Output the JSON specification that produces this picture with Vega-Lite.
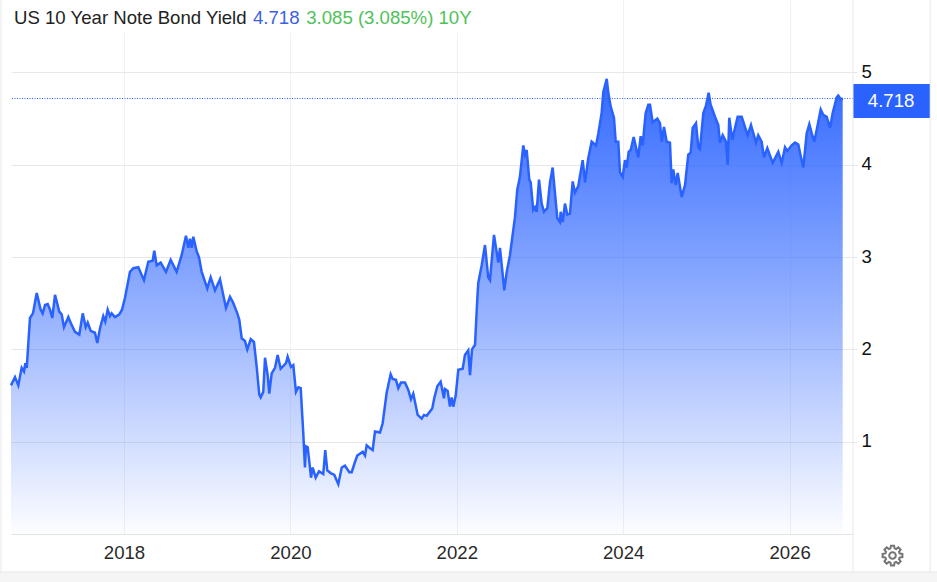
{
  "$schema": "https://vega.github.io/schema/vega-lite/v6.json",
  "autosize": "none",
  "width": 842,
  "height": 534,
  "padding": {"left": 11, "right": 84, "top": 0, "bottom": 48},
  "background": "#ffffff",
  "view": {"stroke": null},
  "config": {"font": "Liberation Sans"},
  "datasets": {
    "note": [{}],
    "yields": [
      {"year":2016.642,"yield":1.61},{"year":2016.690,"yield":1.70},{"year":2016.730,"yield":1.61},{"year":2016.770,"yield":1.80},{"year":2016.798,"yield":1.76},{"year":2016.814,"yield":1.85},{"year":2016.831,"yield":1.80},{"year":2016.870,"yield":2.34},{"year":2016.906,"yield":2.39},{"year":2016.951,"yield":2.61},{"year":2016.999,"yield":2.43},{"year":2017.023,"yield":2.39},{"year":2017.051,"yield":2.48},{"year":2017.083,"yield":2.49},{"year":2017.111,"yield":2.43},{"year":2017.138,"yield":2.34},{"year":2017.171,"yield":2.59},{"year":2017.222,"yield":2.41},{"year":2017.251,"yield":2.38},{"year":2017.279,"yield":2.24},{"year":2017.331,"yield":2.35},{"year":2017.363,"yield":2.28},{"year":2017.411,"yield":2.19},{"year":2017.463,"yield":2.16},{"year":2017.504,"yield":2.39},{"year":2017.540,"yield":2.24},{"year":2017.564,"yield":2.29},{"year":2017.600,"yield":2.20},{"year":2017.651,"yield":2.18},{"year":2017.679,"yield":2.07},{"year":2017.712,"yield":2.23},{"year":2017.751,"yield":2.36},{"year":2017.775,"yield":2.30},{"year":2017.804,"yield":2.43},{"year":2017.832,"yield":2.36},{"year":2017.852,"yield":2.39},{"year":2017.892,"yield":2.35},{"year":2017.944,"yield":2.38},{"year":2017.976,"yield":2.43},
      {"year":2018.012,"yield":2.56},{"year":2018.072,"yield":2.84},{"year":2018.112,"yield":2.88},{"year":2018.172,"yield":2.89},{"year":2018.240,"yield":2.75},{"year":2018.292,"yield":2.95},{"year":2018.345,"yield":2.96},{"year":2018.364,"yield":3.07},{"year":2018.393,"yield":2.91},{"year":2018.441,"yield":2.94},{"year":2018.505,"yield":2.84},{"year":2018.561,"yield":2.97},{"year":2018.633,"yield":2.84},{"year":2018.693,"yield":3.02},{"year":2018.745,"yield":3.23},{"year":2018.773,"yield":3.10},{"year":2018.793,"yield":3.20},{"year":2018.814,"yield":3.10},{"year":2018.833,"yield":3.22},{"year":2018.874,"yield":3.06},{"year":2018.901,"yield":3.00},{"year":2018.934,"yield":2.84},
      {"year":2019.001,"yield":2.66},{"year":2019.042,"yield":2.78},{"year":2019.094,"yield":2.64},{"year":2019.154,"yield":2.76},{"year":2019.193,"yield":2.59},{"year":2019.226,"yield":2.45},{"year":2019.274,"yield":2.57},{"year":2019.310,"yield":2.51},{"year":2019.362,"yield":2.39},{"year":2019.386,"yield":2.32},{"year":2019.415,"yield":2.12},{"year":2019.454,"yield":2.09},{"year":2019.482,"yield":2.00},{"year":2019.523,"yield":2.11},{"year":2019.562,"yield":2.08},{"year":2019.595,"yield":1.81},{"year":2019.626,"yield":1.51},{"year":2019.643,"yield":1.48},{"year":2019.674,"yield":1.54},{"year":2019.695,"yield":1.91},{"year":2019.727,"yield":1.72},{"year":2019.746,"yield":1.52},{"year":2019.775,"yield":1.74},{"year":2019.815,"yield":1.80},{"year":2019.847,"yield":1.94},{"year":2019.883,"yield":1.79},{"year":2019.947,"yield":1.85},{"year":2019.967,"yield":1.92},
      {"year":2020.007,"yield":1.81},{"year":2020.035,"yield":1.83},{"year":2020.067,"yield":1.54},{"year":2020.095,"yield":1.59},{"year":2020.124,"yield":1.58},{"year":2020.155,"yield":1.09},{"year":2020.175,"yield":0.72},{"year":2020.187,"yield":0.95},{"year":2020.208,"yield":0.94},{"year":2020.248,"yield":0.61},{"year":2020.268,"yield":0.72},{"year":2020.304,"yield":0.61},{"year":2020.344,"yield":0.68},{"year":2020.395,"yield":0.65},{"year":2020.419,"yield":0.91},{"year":2020.443,"yield":0.69},{"year":2020.484,"yield":0.66},{"year":2020.528,"yield":0.64},{"year":2020.576,"yield":0.54},{"year":2020.617,"yield":0.72},{"year":2020.656,"yield":0.74},{"year":2020.708,"yield":0.67},{"year":2020.737,"yield":0.67},{"year":2020.776,"yield":0.78},{"year":2020.804,"yield":0.85},{"year":2020.869,"yield":0.89},{"year":2020.897,"yield":0.85},{"year":2020.917,"yield":0.96},{"year":2020.957,"yield":0.93},{"year":2020.989,"yield":0.91},
      {"year":2021.017,"yield":1.11},{"year":2021.077,"yield":1.10},{"year":2021.109,"yield":1.20},{"year":2021.157,"yield":1.53},{"year":2021.205,"yield":1.73},{"year":2021.229,"yield":1.68},{"year":2021.269,"yield":1.67},{"year":2021.297,"yield":1.58},{"year":2021.329,"yield":1.64},{"year":2021.377,"yield":1.64},{"year":2021.417,"yield":1.56},{"year":2021.449,"yield":1.46},{"year":2021.477,"yield":1.52},{"year":2021.530,"yield":1.29},{"year":2021.578,"yield":1.25},{"year":2021.606,"yield":1.29},{"year":2021.638,"yield":1.28},{"year":2021.705,"yield":1.36},{"year":2021.729,"yield":1.47},{"year":2021.766,"yield":1.60},{"year":2021.806,"yield":1.65},{"year":2021.846,"yield":1.47},{"year":2021.858,"yield":1.57},{"year":2021.890,"yield":1.55},{"year":2021.918,"yield":1.38},{"year":2021.938,"yield":1.48},{"year":2021.958,"yield":1.38},{"year":2021.987,"yield":1.50},
      {"year":2022.018,"yield":1.78},{"year":2022.071,"yield":1.79},{"year":2022.098,"yield":1.94},{"year":2022.138,"yield":1.99},{"year":2022.159,"yield":1.72},{"year":2022.183,"yield":2.00},{"year":2022.219,"yield":2.05},{"year":2022.246,"yield":2.54},{"year":2022.258,"yield":2.72},{"year":2022.299,"yield":2.91},{"year":2022.339,"yield":3.13},{"year":2022.378,"yield":2.78},{"year":2022.399,"yield":2.75},{"year":2022.447,"yield":3.24},{"year":2022.499,"yield":2.94},{"year":2022.519,"yield":3.10},{"year":2022.571,"yield":2.64},{"year":2022.600,"yield":2.84},{"year":2022.639,"yield":3.02},{"year":2022.699,"yield":3.43},{"year":2022.727,"yield":3.73},{"year":2022.759,"yield":3.87},{"year":2022.799,"yield":4.21},{"year":2022.820,"yield":4.11},{"year":2022.840,"yield":4.16},{"year":2022.871,"yield":3.84},{"year":2022.888,"yield":3.81},{"year":2022.919,"yield":3.51},{"year":2022.940,"yield":3.54},{"year":2022.960,"yield":3.49},{"year":2022.988,"yield":3.84},
      {"year":2023.020,"yield":3.58},{"year":2023.048,"yield":3.49},{"year":2023.088,"yield":3.53},{"year":2023.120,"yield":3.81},{"year":2023.152,"yield":3.97},{"year":2023.208,"yield":3.42},{"year":2023.240,"yield":3.38},{"year":2023.248,"yield":3.49},{"year":2023.273,"yield":3.38},{"year":2023.300,"yield":3.58},{"year":2023.328,"yield":3.46},{"year":2023.360,"yield":3.47},{"year":2023.393,"yield":3.82},{"year":2023.420,"yield":3.70},{"year":2023.460,"yield":3.77},{"year":2023.513,"yield":4.05},{"year":2023.541,"yield":3.81},{"year":2023.580,"yield":4.07},{"year":2023.621,"yield":4.25},{"year":2023.673,"yield":4.21},{"year":2023.701,"yield":4.34},{"year":2023.741,"yield":4.56},{"year":2023.761,"yield":4.79},{"year":2023.802,"yield":4.93},{"year":2023.821,"yield":4.78},{"year":2023.850,"yield":4.63},{"year":2023.889,"yield":4.51},{"year":2023.910,"yield":4.25},{"year":2023.941,"yield":4.25},{"year":2023.961,"yield":3.92},{"year":2023.994,"yield":3.87},
      {"year":2024.021,"yield":4.05},{"year":2024.042,"yield":3.97},{"year":2024.066,"yield":4.14},{"year":2024.090,"yield":4.16},{"year":2024.126,"yield":4.30},{"year":2024.181,"yield":4.08},{"year":2024.210,"yield":4.31},{"year":2024.234,"yield":4.21},{"year":2024.270,"yield":4.56},{"year":2024.302,"yield":4.65},{"year":2024.322,"yield":4.65},{"year":2024.354,"yield":4.46},{"year":2024.410,"yield":4.50},{"year":2024.442,"yield":4.45},{"year":2024.463,"yield":4.25},{"year":2024.490,"yield":4.41},{"year":2024.523,"yield":4.25},{"year":2024.562,"yield":4.24},{"year":2024.583,"yield":3.80},{"year":2024.602,"yield":3.95},{"year":2024.631,"yield":3.78},{"year":2024.655,"yield":3.91},{"year":2024.703,"yield":3.65},{"year":2024.743,"yield":3.78},{"year":2024.782,"yield":4.11},{"year":2024.811,"yield":4.13},{"year":2024.835,"yield":4.40},{"year":2024.875,"yield":4.45},{"year":2024.903,"yield":4.19},{"year":2024.923,"yield":4.17},{"year":2024.963,"yield":4.56},{"year":2024.995,"yield":4.64},
      {"year":2025.027,"yield":4.78},{"year":2025.051,"yield":4.65},{"year":2025.103,"yield":4.52},{"year":2025.143,"yield":4.43},{"year":2025.163,"yield":4.24},{"year":2025.196,"yield":4.32},{"year":2025.235,"yield":4.25},{"year":2025.256,"yield":4.00},{"year":2025.275,"yield":4.51},{"year":2025.311,"yield":4.27},{"year":2025.344,"yield":4.40},{"year":2025.376,"yield":4.52},{"year":2025.424,"yield":4.52},{"year":2025.496,"yield":4.32},{"year":2025.536,"yield":4.43},{"year":2025.596,"yield":4.24},{"year":2025.623,"yield":4.32},{"year":2025.664,"yield":4.25},{"year":2025.692,"yield":4.08},{"year":2025.732,"yield":4.18},{"year":2025.797,"yield":4.02},{"year":2025.864,"yield":4.14},{"year":2025.905,"yield":4.02},{"year":2025.945,"yield":4.19},{"year":2025.972,"yield":4.15},
      {"year":2026.025,"yield":4.21},{"year":2026.065,"yield":4.24},{"year":2026.105,"yield":4.22},{"year":2026.137,"yield":4.08},{"year":2026.165,"yield":3.97},{"year":2026.205,"yield":4.34},{"year":2026.237,"yield":4.44},{"year":2026.266,"yield":4.34},{"year":2026.297,"yield":4.25},{"year":2026.326,"yield":4.38},{"year":2026.374,"yield":4.60},{"year":2026.405,"yield":4.54},{"year":2026.446,"yield":4.52},{"year":2026.486,"yield":4.40},{"year":2026.518,"yield":4.56},{"year":2026.566,"yield":4.73},{"year":2026.585,"yield":4.75},{"year":2026.614,"yield":4.71},{"year":2026.638,"yield":4.718}
    ]
  },
  "layer": [
    {
      "data": {"name": "yields"},
      "mark": {
        "type": "area",
        "interpolate": "linear",
        "color": {
          "gradient": "linear", "x1": 0, "y1": 0, "x2": 0, "y2": 1,
          "stops": [
            {"offset": 0, "color": "rgba(41,98,255,0.95)"},
            {"offset": 0.5, "color": "rgba(41,98,255,0.5)"},
            {"offset": 1, "color": "rgba(41,98,255,0.01)"}
          ]
        }
      },
      "encoding": {
        "x": {
          "field": "year", "type": "quantitative", "title": null,
          "scale": {"domain": [2016.642, 2026.762], "nice": false, "zero": false},
          "axis": {
            "values": [2018, 2020, 2022, 2024, 2026], "format": "d",
            "grid": true, "gridColor": "#f1f1f3", "gridWidth": 1,
            "domain": true, "domainColor": "#e4e4e4", "domainWidth": 1,
            "ticks": false, "labelPadding": 9,
            "labelFontSize": 18.6, "labelColor": "#2a2a2a", "labelFlush": false
          }
        },
        "y": {
          "field": "yield", "type": "quantitative", "title": null,
          "scale": {"domain": [0, 5.785], "nice": false},
          "axis": {
            "orient": "right", "values": [1, 2, 3, 4, 5], "format": "d",
            "grid": true, "gridColor": "#e8e8e8", "gridWidth": 1,
            "domain": false, "tickSize": 4, "tickColor": "#e4e4e4", "labelPadding": 4,
            "labelFontSize": 18.6, "labelColor": "#111111", "labelOffset": -1
          }
        }
      }
    },
    {
      "data": {"name": "yields"},
      "mark": {"type": "line", "color": "#2962ff", "strokeWidth": 2.5, "interpolate": "linear"},
      "encoding": {
        "x": {"field": "year", "type": "quantitative"},
        "y": {"field": "yield", "type": "quantitative"}
      }
    },
    {
      "data": {"name": "note"},
      "mark": {"type": "rule", "color": "#2962ff", "strokeWidth": 1, "strokeDash": [1, 1.5]},
      "encoding": {"y": {"datum": 4.718, "type": "quantitative"}}
    },
    {
      "data": {"name": "note"},
      "mark": {"type": "rect", "color": "#ffffff"},
      "encoding": {
        "x": {"datum": 2016.51, "type": "quantitative"},
        "x2": {"datum": 2022.219},
        "y": {"datum": 5.785, "type": "quantitative"},
        "y2": {"datum": 5.428}
      }
    },
    {
      "data": {"name": "note"},
      "mark": {"type": "text", "text": "US 10 Year Note Bond Yield", "align": "left", "baseline": "middle", "fontSize": 18.6, "color": "#222222"},
      "encoding": {
        "x": {"datum": 2016.678, "type": "quantitative"},
        "y": {"datum": 5.59, "type": "quantitative"}
      }
    },
    {
      "data": {"name": "note"},
      "mark": {"type": "text", "text": "4.718", "align": "left", "baseline": "middle", "fontSize": 18.6, "color": "#3b62e0"},
      "encoding": {
        "x": {"datum": 2019.55, "type": "quantitative"},
        "y": {"datum": 5.59, "type": "quantitative"}
      }
    },
    {
      "data": {"name": "note"},
      "mark": {"type": "text", "text": "3.085 (3.085%) 10Y", "align": "left", "baseline": "middle", "fontSize": 18.6, "color": "#4fc25a"},
      "encoding": {
        "x": {"datum": 2020.19, "type": "quantitative"},
        "y": {"datum": 5.59, "type": "quantitative"}
      }
    },
    {
      "data": {"name": "note"},
      "mark": {"type": "rect", "color": "#2962ff"},
      "encoding": {
        "x": {"datum": 2026.762, "type": "quantitative"},
        "x2": {"datum": 2027.688},
        "y": {"datum": 4.875, "type": "quantitative"},
        "y2": {"datum": 4.507}
      }
    },
    {
      "data": {"name": "note"},
      "mark": {"type": "text", "text": "4.718", "align": "center", "baseline": "middle", "fontSize": 18.6, "color": "#ffffff"},
      "encoding": {
        "x": {"datum": 2027.22, "type": "quantitative"},
        "y": {"datum": 4.69, "type": "quantitative"}
      }
    },
    {
      "data": {"name": "note"},
      "mark": {"type": "rule", "color": "#e8e8e8", "strokeWidth": 1},
      "encoding": {
        "x": {"datum": 2026.762, "type": "quantitative"},
        "y": {"datum": 5.785, "type": "quantitative"},
        "y2": {"datum": -0.412}
      }
    },
    {
      "data": {"name": "note"},
      "mark": {"type": "rule", "color": "#e8e8e8", "strokeWidth": 1},
      "encoding": {
        "x": {"datum": 2027.69, "type": "quantitative"},
        "y": {"datum": 5.785, "type": "quantitative"},
        "y2": {"datum": -0.412}
      }
    },
    {
      "data": {"name": "note"},
      "mark": {"type": "rule", "color": "#e8e8e8", "strokeWidth": 1},
      "encoding": {
        "x": {"datum": 2016.522, "type": "quantitative"},
        "y": {"datum": 5.785, "type": "quantitative"},
        "y2": {"datum": -0.412}
      }
    },
    {
      "data": {"name": "note"},
      "mark": {"type": "rect", "color": "#f5f5f5", "stroke": "#e6e6e6", "strokeWidth": 1},
      "encoding": {
        "x": {"datum": 2016.4, "type": "quantitative"},
        "x2": {"datum": 2027.9},
        "y": {"datum": -0.412, "type": "quantitative"},
        "y2": {"datum": -0.6}
      }
    },
    {
      "data": {"name": "note"},
      "mark": {
        "type": "point",
        "shape": "M.711,-.204L.988,-.156L.988,.156L.711,.204L.647,.359L.809,.588L.588,.809L.359,.647L.204,.711L.156,.988L-.156,.988L-.204,.711L-.359,.647L-.588,.809L-.809,.588L-.647,.359L-.711,.204L-.988,.156L-.988,-.156L-.711,-.204L-.647,-.359L-.809,-.588L-.588,-.809L-.359,-.647L-.204,-.711L-.156,-.988L.156,-.988L.204,-.711L.359,-.647L.588,-.809L.809,-.588L.647,-.359ZM.33,0A.33,.33 0 1,1 -.33,0A.33,.33 0 1,1 .33,0Z",
        "size": 400,
        "filled": false,
        "stroke": "#757575",
        "strokeWidth": 2,
        "opacity": 1
      },
      "encoding": {
        "x": {"datum": 2027.237, "type": "quantitative"},
        "y": {"datum": -0.233, "type": "quantitative"}
      }
    }
  ]
}
